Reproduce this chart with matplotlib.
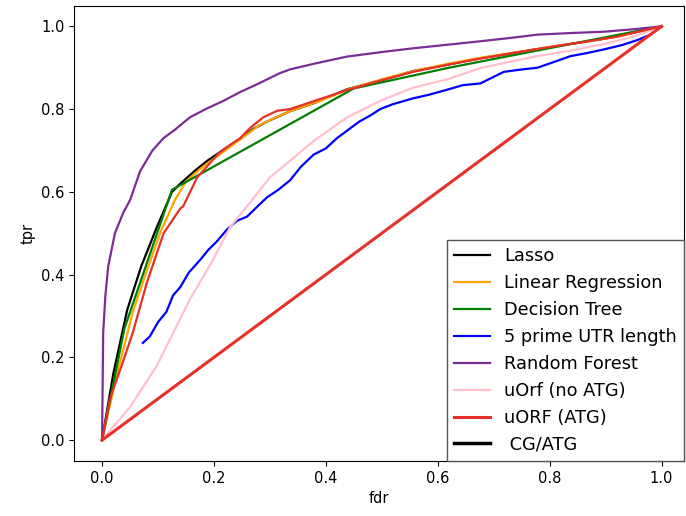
import matplotlib
matplotlib.use('Agg')
from matplotlib import pyplot as plt

# ROC points (fdr, tpr)
lasso_x = [0, 0.02, 0.045, 0.07, 0.098, 0.125, 0.14, 0.165, 0.188, 0.215, 0.247, 0.27, 0.295, 0.336, 0.38, 0.438, 0.5, 0.556, 0.62, 0.676, 0.72, 0.778, 0.84, 0.896, 0.95, 1.0]
lasso_y = [0, 0.16, 0.315, 0.42, 0.515, 0.60, 0.62, 0.65, 0.675, 0.70, 0.728, 0.752, 0.77, 0.795, 0.815, 0.848, 0.87, 0.892, 0.908, 0.923, 0.932, 0.945, 0.958, 0.97, 0.985, 1.0]
linreg_x = [0, 0.025, 0.055, 0.08, 0.105, 0.13, 0.15, 0.175, 0.2, 0.225, 0.25, 0.28, 0.31, 0.34, 0.39, 0.44, 0.5, 0.56, 0.62, 0.68, 0.74, 0.8, 0.86, 0.92, 1.0]
linreg_y = [0, 0.15, 0.31, 0.41, 0.505, 0.58, 0.625, 0.655, 0.68, 0.705, 0.73, 0.76, 0.78, 0.797, 0.82, 0.848, 0.872, 0.893, 0.91, 0.925, 0.937, 0.95, 0.962, 0.975, 1.0]
tree_x = [0, 0.04, 0.125, 0.45, 0.62, 1.0]
tree_y = [0, 0.27, 0.605, 0.85, 0.9, 1.0]
utr_x = [0.073, 0.085, 0.1, 0.115, 0.127, 0.14, 0.155, 0.175, 0.19, 0.205, 0.224, 0.241, 0.259, 0.278, 0.295, 0.315, 0.336, 0.355, 0.378, 0.4, 0.42, 0.438, 0.46, 0.48, 0.497, 0.52, 0.556, 0.585, 0.617, 0.645, 0.676, 0.7, 0.718, 0.745, 0.778, 0.81, 0.837, 0.865, 0.896, 0.93, 0.957, 0.98, 1.0]
utr_y = [0.235, 0.25, 0.285, 0.31, 0.35, 0.37, 0.405, 0.435, 0.46, 0.48, 0.51, 0.53, 0.54, 0.565, 0.587, 0.605, 0.628, 0.66, 0.69, 0.705, 0.73, 0.748, 0.77, 0.785, 0.80, 0.812, 0.826, 0.835, 0.847, 0.858, 0.862, 0.878, 0.89, 0.895, 0.90, 0.915, 0.928, 0.935, 0.944, 0.955, 0.967, 0.98, 1.0]
forest_x = [0, 0.002, 0.006, 0.011, 0.023, 0.038, 0.05, 0.068, 0.09, 0.11, 0.13, 0.157, 0.185, 0.217, 0.245, 0.277, 0.318, 0.336, 0.38, 0.438, 0.5, 0.556, 0.62, 0.676, 0.73, 0.778, 0.84, 0.896, 0.95, 1.0]
forest_y = [0, 0.26, 0.35, 0.42, 0.50, 0.55, 0.58, 0.65, 0.70, 0.73, 0.75, 0.78, 0.80, 0.82, 0.84, 0.86, 0.887, 0.896, 0.91, 0.927, 0.938, 0.947, 0.956, 0.964, 0.972, 0.98, 0.984, 0.987, 0.993, 1.0]
noatg_x = [0, 0.05, 0.098, 0.157, 0.2, 0.229, 0.259, 0.3, 0.336, 0.378, 0.438, 0.497, 0.556, 0.617, 0.676, 0.72, 0.778, 0.84, 0.896, 0.95, 1.0]
noatg_y = [0, 0.08, 0.18, 0.34, 0.44, 0.515, 0.565, 0.635, 0.675, 0.723, 0.78, 0.82, 0.852, 0.872, 0.899, 0.912, 0.928, 0.942, 0.957, 0.975, 1.0]
atg_x = [0, 0.014, 0.035, 0.055, 0.08, 0.11, 0.14, 0.145, 0.17, 0.19, 0.206, 0.225, 0.247, 0.265, 0.288, 0.313, 0.336, 0.38, 0.438, 0.5, 0.556, 0.62, 0.676, 0.74, 0.8, 0.86, 0.92, 1.0]
atg_y = [0, 0.10, 0.18, 0.26, 0.38, 0.50, 0.56, 0.565, 0.635, 0.665, 0.69, 0.71, 0.73, 0.755, 0.78, 0.796, 0.80, 0.82, 0.846, 0.87, 0.89, 0.908, 0.922, 0.937, 0.95, 0.962, 0.975, 1.0]
diag_x = [0, 1]
diag_y = [0, 1]

fig = plt.figure(figsize=(6.86, 5.16), dpi=100)
ax = fig.add_axes([0.108, 0.107, 0.889, 0.882])

ax.plot(lasso_x, lasso_y, color='black', lw=1.6, label='Lasso')
ax.plot(linreg_x, linreg_y, color='orange', lw=1.6, label='Linear Regression')
ax.plot(tree_x, tree_y, color='green', lw=1.6, label='Decision Tree')
ax.plot(utr_x, utr_y, color='blue', lw=1.6, label='5 prime UTR length')
ax.plot(forest_x, forest_y, color='#7b2d96', lw=1.6, label='Random Forest')
ax.plot(noatg_x, noatg_y, color='pink', lw=1.6, label='uOrf (no ATG)')
ax.plot(atg_x, atg_y, color='#e8302a', lw=1.6)
ax.plot(diag_x, diag_y, color='#e8302a', lw=2.2, label='uORF (ATG)')
ax.plot([], [], color='black', lw=2.5, label=' CG/ATG')

ax.set_xlim(-0.05, 1.04)
ax.set_ylim(-0.05, 1.05)
ax.set_xlabel('fdr', fontsize=10.5)
ax.set_ylabel('tpr', fontsize=10.5)
ax.tick_params(labelsize=10.5)

ax.legend(loc='lower right', bbox_to_anchor=(1.0, 0.0), borderaxespad=0,
          fontsize=12.8, fancybox=False, edgecolor='#555555', framealpha=1,
          handlelength=2.0, labelspacing=0.5)

fig.savefig('out.png', dpi=100)
